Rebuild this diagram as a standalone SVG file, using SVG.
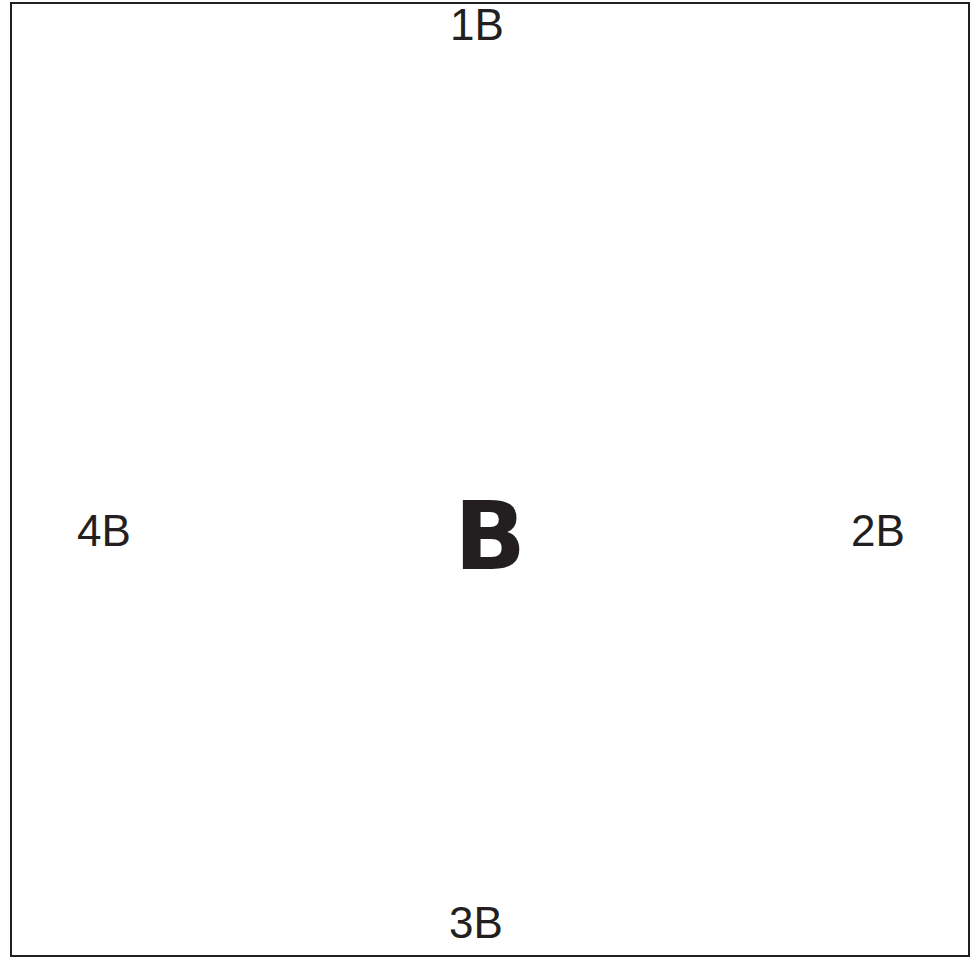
<svg xmlns="http://www.w3.org/2000/svg" width="978" height="961" viewBox="0 0 978 961">
<style>
.lbl{font-family:"Liberation Sans",Arial,sans-serif;font-size:44px;fill:#231f20;text-anchor:middle}
.big{font-family:"DejaVu Sans","Liberation Sans",sans-serif;font-weight:900;font-size:94px;fill:#231f20;text-anchor:middle}
</style>
<rect width="978" height="961" fill="#fff"/>
<g id="frame"><rect x="11" y="3" width="958" height="953" fill="none" stroke="#231f20" stroke-width="2"/></g>
<g id="center"><text class="big" x="490" y="569">B</text></g>
<g id="n1"><text class="lbl" x="477" y="40">1B</text></g>
<g id="n2"><text class="lbl" x="878" y="546">2B</text></g>
<g id="n3"><text class="lbl" x="476" y="938">3B</text></g>
<g id="n4"><text class="lbl" x="104" y="546">4B</text></g>
<g id="connectors"/>
</svg>
